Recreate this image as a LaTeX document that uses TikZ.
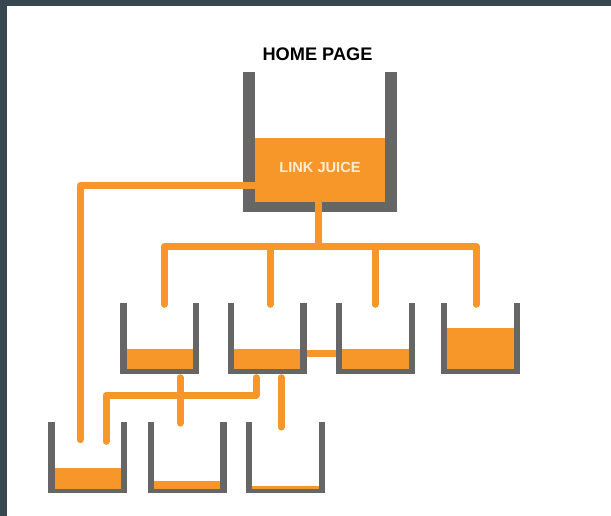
\documentclass[tikz,border=0pt]{standalone}
\usepackage{fontspec}
\setmainfont{Liberation Sans}
\usetikzlibrary{positioning,calc}
\definecolor{framegray}{RGB}{55,71,79}
\definecolor{wallgray}{RGB}{102,102,102}
\definecolor{juiceorange}{RGB}{247,151,41}
\definecolor{juicetext}{RGB}{253,236,212}

\newcommand{\wallw}{6.6}
\newcommand{\basew}{5}
% hollow out a bucket node and pour in the juice: node, wall, base, level
\newcommand{\bucketfill}[4]{%
  \fill[white] ($(#1.north west)+(#2,0)$) rectangle ($(#1.south east)+(-#2,-#3)$);
  \fill[juiceorange] ($(#1.south west)+(#2,-#3)$) rectangle ($(#1.south east)+(-#2,-#3-#4)$);
}

\begin{document}
\begin{tikzpicture}[x=1pt, y=-1pt,
    bucket/.style={fill=wallgray, inner sep=0, minimum width=79pt, minimum height=71pt},
    pipe/.style={draw=juiceorange, line width=7pt, line cap=round, line join=round}]
    \useasboundingbox (0,0) rectangle (611,516);
    \fill[framegray] (0,0) rectangle (611,516);
    \fill[white] (7,6) rectangle (611,516);

    % home page bucket
    \node[bucket, minimum width=154pt, minimum height=140pt] (home) at (320,142) {};
    \bucketfill{home}{12.5}{10}{64.3}
    \node[font=\bfseries\fontsize{18.2}{21}\selectfont, inner sep=0, above=10.5pt of home, xshift=-2.5pt] (title) {HOME PAGE};
    \node[font=\bfseries\fontsize{14.6}{16}\selectfont, text=juicetext, inner sep=0] (juice) at ([yshift=-25pt]home.center) {LINK JUICE};

    % linked pages
    \foreach \name/\x/\lvl in {b1/159.7/20, b2/267/20, b3/375.5/20, b4/480.5/41} {
      \node[bucket] (\name) at (\x,338.5) {};
      \bucketfill{\name}{\wallw}{\basew}{\lvl}
    }
    \foreach \name/\x/\lvl in {c1/87.8/20.6, c2/187/7.3, c3/285.5/2.6} {
      \node[bucket] (\name) at (\x,457.8) {};
      \bucketfill{\name}{\wallw}{\basew}{\lvl}
    }

    % pipes from the home page
    \coordinate (split) at ([xshift=-2pt, yshift=-104.5pt]home.center);
    \coordinate (b1in) at ([xshift=4.6pt, yshift=-1.5pt]b1.north);
    \coordinate (b2in) at ([xshift=3pt, yshift=-1.5pt]b2.north);
    \coordinate (b3in) at ([xshift=-0.5pt, yshift=-1.5pt]b3.north);
    \coordinate (b4in) at ([xshift=-4.5pt, yshift=-1.5pt]b4.north);
    \coordinate (c1in) at ([xshift=-7.8pt, yshift=-17.5pt]c1.north);
    \draw[pipe] ([xshift=-2pt, yshift=12pt]home.south) -- (split);
    \draw[pipe] (b1in) |- (split) -| (b4in);
    \draw[pipe] (split -| b2in) -- (b2in);
    \draw[pipe] (split -| b3in) -- (b3in);
    \draw[pipe] ([xshift=14pt, yshift=-43.7pt]home.west) -| (c1in);

    % pipes between the pages
    \coordinate (b1out) at ([xshift=20.3pt, yshift=-3.5pt]b1.south);
    \coordinate (b2out) at ([xshift=-11pt, yshift=-3.5pt]b2.south);
    \coordinate (b2right) at ([xshift=14pt, yshift=-3.5pt]b2.south);
    \coordinate (c1side) at ([xshift=18.2pt, yshift=-19.2pt]c1.north);
    \coordinate (c2in) at ([xshift=-7pt, yshift=-1pt]c2.north);
    \coordinate (c3in) at ([xshift=-4.5pt, yshift=-5pt]c3.north);
    \coordinate (lane) at (0,395);
    \draw[pipe, line cap=butt] ([yshift=-14.8pt]b2.east) -- ([yshift=-14.8pt]b3.west);
    \draw[pipe] (b1out) -- (c2in);
    \draw[pipe] (b2out) -- (b2out |- lane) -| (c1side);
    \draw[pipe] (b2right) -- (c3in);
\end{tikzpicture}
\end{document}
